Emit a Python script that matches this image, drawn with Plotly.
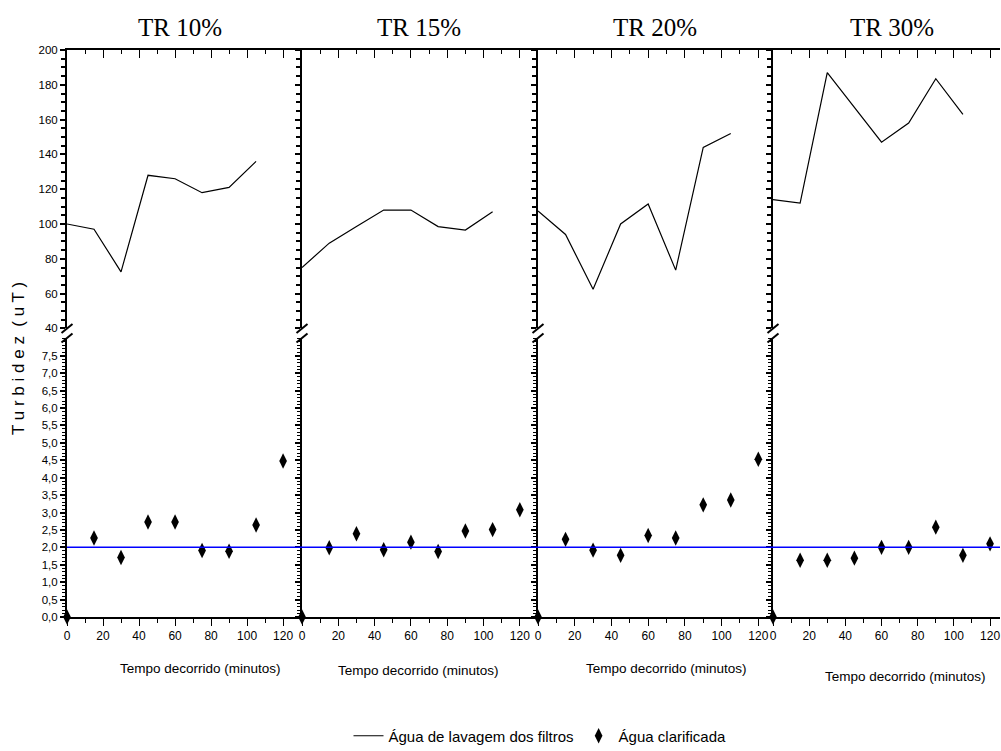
import plotly.graph_objects as go

# Sampling times (minutes)
tempo = [0, 15, 30, 45, 60, 75, 90, 105, 120]
tempo_lavagem = [0, 15, 30, 45, 60, 75, 90, 105]

paineis = ["TR 10%", "TR 15%", "TR 20%", "TR 30%"]

# Turbidity of filter wash water (uT)
lavagem_tr10 = [100, 97, 72.5, 128, 126, 118, 121, 136]
lavagem_tr15 = [75, 89, 98.5, 108, 108, 98.5, 96.5, 107]
lavagem_tr20 = [107.5, 94, 62.5, 100, 111.5, 73.5, 144, 152]
lavagem_tr30 = [114, 112, 187, 167, 147, 158, 183.5, 163]

# Turbidity of clarified water (uT)
clarificada_tr10 = [0.0, 2.27, 1.71, 2.73, 2.73, 1.91, 1.89, 2.64, 4.48]
clarificada_tr15 = [0.0, 1.99, 2.39, 1.93, 2.15, 1.88, 2.47, 2.51, 3.08]
clarificada_tr20 = [0.0, 2.23, 1.92, 1.77, 2.34, 2.27, 3.22, 3.36, 4.53]
clarificada_tr30 = [0.0, 1.63, 1.63, 1.69, 2.0, 2.0, 2.58, 1.77, 2.10]

limite = 2.0

lavagem = [lavagem_tr10, lavagem_tr15, lavagem_tr20, lavagem_tr30]
clarificada = [clarificada_tr10, clarificada_tr15, clarificada_tr20, clarificada_tr30]

sup_ticks = [40, 60, 80, 100, 120, 140, 160, 180, 200]
inf_ticks = [0.0, 0.5, 1.0, 1.5, 2.0, 2.5, 3.0, 3.5, 4.0, 4.5, 5.0, 5.5, 6.0, 6.5, 7.0, 7.5]
x_ticks = [0, 20, 40, 60, 80, 100, 120]

W, H = 1001, 751
ML, MR, MT, MB = 67, 1, 50, 134
PW, PH = W - ML - MR, H - MT - MB


def px(x):
    return (x - ML) / PW


def py(y):
    return (H - MB - y) / PH


col_edges = [67, 302, 538, 773, 1000]
x_max = [130.5, 130, 128, 125.5]
y_split_top = py(328.4)
y_split_bot = py(338.4)

SANS = "Liberation Sans, Arial, sans-serif"
tick_font = dict(family=SANS, size=11.5, color="black")

fig = go.Figure()
layout = dict(
    width=W, height=H,
    margin=dict(l=ML, r=MR, t=MT, b=MB, autoexpand=False),
    plot_bgcolor="white", paper_bgcolor="white",
    separators=",.",
    showlegend=True,
    shapes=[], annotations=[],
)

for i in range(4):
    up, lo = 2 * i + 1, 2 * i + 2
    dom = [px(col_edges[i]), px(col_edges[i + 1])]
    sfx_up = "" if up == 1 else str(up)
    sfx_lo = str(lo)

    fig.add_trace(go.Scatter(
        x=tempo_lavagem, y=lavagem[i], mode="lines",
        line=dict(color="black", width=1.2),
        name="Água de lavagem dos filtros", showlegend=(i == 0),
        xaxis="x" + sfx_up, yaxis="y" + sfx_up,
    ))
    fig.add_trace(go.Scatter(
        x=tempo, y=clarificada[i], mode="markers",
        marker=dict(symbol="diamond-tall", size=11, color="black"),
        name="Água clarificada", showlegend=(i == 0), cliponaxis=False,
        xaxis="x" + sfx_lo, yaxis="y" + sfx_lo,
    ))

    layout["xaxis" + sfx_up] = dict(
        domain=dom, range=[0, x_max[i]], anchor="y" + sfx_up, side="top",
        showline=True, linecolor="black", linewidth=2,
        tickvals=x_ticks, ticks="inside", ticklen=8, tickwidth=1, tickcolor="black",
        minor=dict(dtick=10, tick0=0, ticks="inside", ticklen=4, tickcolor="black"),
        showticklabels=False, showgrid=False, zeroline=False,
    )
    layout["yaxis" + sfx_up] = dict(
        domain=[y_split_top, 1], range=[40, 200], anchor="x" + sfx_up,
        showline=True, linecolor="black", linewidth=2,
        tickvals=sup_ticks, ticks="outside", ticklen=5, tickwidth=1.5, tickcolor="black",
        minor=dict(dtick=5, tick0=0, ticks="outside", ticklen=4, tickwidth=1.5, tickcolor="black"),
        showticklabels=(i == 0), tickfont=tick_font,
        showgrid=False, zeroline=False,
    )
    layout["xaxis" + sfx_lo] = dict(
        domain=dom, range=[0, x_max[i]], anchor="y" + sfx_lo,
        showline=True, linecolor="black", linewidth=2,
        tickvals=x_ticks, ticks="outside", ticklen=7, tickwidth=1, tickcolor="black",
        minor=dict(dtick=10, tick0=0, ticks="outside", ticklen=4, tickcolor="black"),
        showticklabels=True, tickfont=dict(family=SANS, size=12, color="black"),
        ticklabeloverflow="allow",
        showgrid=False, zeroline=False,
    )
    layout["yaxis" + sfx_lo] = dict(
        domain=[0, y_split_bot], range=[0, 8], anchor="x" + sfx_lo,
        showline=True, linecolor="black", linewidth=2,
        tickvals=inf_ticks, tickformat=".1f", ticks="outside", ticklen=5, tickwidth=1.5,
        tickcolor="black",
        minor=dict(dtick=0.1, tick0=0, ticks="outside", ticklen=3, tickwidth=1, tickcolor="black"),
        showticklabels=(i == 0), tickfont=tick_font,
        showgrid=False, zeroline=False,
    )

    # axis break marks
    lx = col_edges[i]
    for yc in (328.4, 338.0):
        layout["shapes"].append(dict(
            type="line", xref="paper", yref="paper",
            x0=px(lx - 5.5), y0=py(yc + 4.5), x1=px(lx + 5.5), y1=py(yc - 4.5),
            line=dict(color="black", width=2),
        ))

    # panel title
    centers_t = [180, 419, 655, 892]
    layout["annotations"].append(dict(
        text=paineis[i], xref="paper", yref="paper",
        x=px(centers_t[i]), y=py(28), xanchor="center", yanchor="middle",
        showarrow=False, font=dict(family="Liberation Serif, Times New Roman, serif", size=25, color="black"),
    ))
    centers_x = [200, 418, 666, 905]
    ys_x = [668, 670, 668, 676]
    layout["annotations"].append(dict(
        text="Tempo decorrido (minutos)", xref="paper", yref="paper",
        x=px(centers_x[i]), y=py(ys_x[i]), xanchor="center", yanchor="middle",
        showarrow=False, font=dict(family=SANS, size=13.5, color="black"),
    ))

# reference limit for clarified water
layout["shapes"].append(dict(
    type="line", xref="paper", yref="y2", x0=0, x1=1, y0=limite, y1=limite,
    line=dict(color="#0000ff", width=1.5),
))

layout["annotations"].append(dict(
    text="T u r b i d e z \u00a0( u T )",
    xref="paper", yref="paper",
    x=px(18), y=py(359), xanchor="center", yanchor="middle", textangle=-90,
    showarrow=False, font=dict(family=SANS, size=17, color="black"),
))

layout["legend"] = dict(
    orientation="h", x=px(540), y=py(736), xanchor="center", yanchor="middle",
    font=dict(family=SANS, size=15, color="black"), bgcolor="rgba(0,0,0,0)",
    itemwidth=30,
)

fig.update_layout(**layout)
fig.write_html("out.html")
